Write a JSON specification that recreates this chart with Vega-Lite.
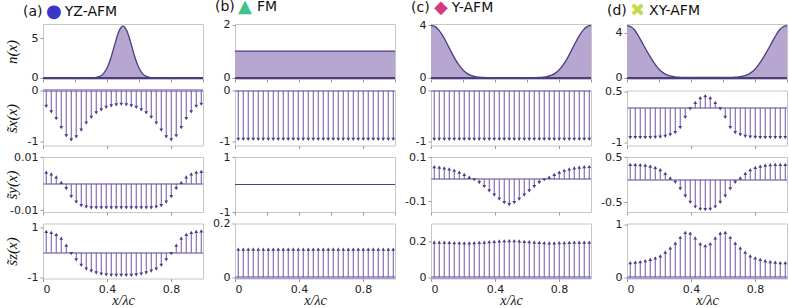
{
  "$schema": "https://vega.github.io/schema/vega-lite/v6.json",
  "background": "white",
  "padding": {"left": 3, "top": -3, "right": 0, "bottom": 0},
  "config": {
    "view": {"stroke": "#c6c6c6", "strokeWidth": 1},
    "axis": {"domain": false, "grid": false, "tickSize": 3, "tickColor": "#9a9a9a", "labelFont": "DejaVu Sans", "labelFontSize": 11, "labelColor": "#222222", "labelPadding": 2, "titleFont": "Liberation Serif", "titleFontStyle": "italic", "titleFontWeight": "normal", "titleFontSize": 15, "titleColor": "#111111", "labelExpr": "replace(format(datum.value, '~g'), '\u2212', '-')"},
    "axisY": {"titleX": -32, "titleY": 27.5, "titleAngle": -90, "titleBaseline": "middle", "titleAlign": "center"},
    "axisX": {"titlePadding": -1, "titleFontSize": 14},
    "title": {"anchor": "start", "frame": "group", "font": "DejaVu Sans", "fontSize": 14, "fontWeight": "normal", "color": "#111111", "dx": -20, "offset": 0.5, "subtitleFont": "DejaVu Sans", "subtitleFontSize": 18, "subtitlePadding": -16}
  },
  "datasets": {
    "sites": [
      {"x": 0.0203, "a_sx": -0.31, "a_sy": 0.0044, "a_sz": 0.85, "b_sx": -0.96, "b_sy": 0, "b_sz": 0.105, "c_sx": -0.96, "c_sy": 0.057, "c_sz": 0.197, "d_sx": -0.87, "d_sy": 0.34, "d_sz": 0.28},
      {"x": 0.0516, "a_sx": -0.42, "a_sy": 0.0037, "a_sz": 0.81, "b_sx": -0.96, "b_sy": 0, "b_sz": 0.105, "c_sx": -0.96, "c_sy": 0.055, "c_sz": 0.197, "d_sx": -0.87, "d_sy": 0.34, "d_sz": 0.29},
      {"x": 0.0828, "a_sx": -0.55, "a_sy": 0.0026, "a_sz": 0.73, "b_sx": -0.96, "b_sy": 0, "b_sz": 0.105, "c_sx": -0.96, "c_sy": 0.052, "c_sz": 0.196, "d_sx": -0.87, "d_sy": 0.33, "d_sz": 0.30},
      {"x": 0.1141, "a_sx": -0.73, "a_sy": 0.0005, "a_sz": 0.58, "b_sx": -0.96, "b_sy": 0, "b_sz": 0.105, "c_sx": -0.96, "c_sy": 0.047, "c_sz": 0.195, "d_sx": -0.87, "d_sy": 0.32, "d_sz": 0.32},
      {"x": 0.1453, "a_sx": -0.89, "a_sy": -0.0019, "a_sz": 0.30, "b_sx": -0.96, "b_sy": 0, "b_sz": 0.105, "c_sx": -0.96, "c_sy": 0.041, "c_sz": 0.194, "d_sx": -0.87, "d_sy": 0.30, "d_sz": 0.34},
      {"x": 0.1766, "a_sx": -0.97, "a_sy": -0.0049, "a_sz": -0.03, "b_sx": -0.96, "b_sy": 0, "b_sz": 0.105, "c_sx": -0.96, "c_sy": 0.033, "c_sz": 0.193, "d_sx": -0.86, "d_sy": 0.27, "d_sz": 0.37},
      {"x": 0.2078, "a_sx": -0.91, "a_sy": -0.0070, "a_sz": -0.28, "b_sx": -0.96, "b_sy": 0, "b_sz": 0.105, "c_sx": -0.96, "c_sy": 0.022, "c_sz": 0.192, "d_sx": -0.85, "d_sy": 0.22, "d_sz": 0.41},
      {"x": 0.2391, "a_sx": -0.78, "a_sy": -0.0083, "a_sz": -0.50, "b_sx": -0.96, "b_sy": 0, "b_sz": 0.105, "c_sx": -0.96, "c_sy": 0.010, "c_sz": 0.192, "d_sx": -0.83, "d_sy": 0.14, "d_sz": 0.48},
      {"x": 0.2703, "a_sx": -0.64, "a_sy": -0.0089, "a_sz": -0.65, "b_sx": -0.96, "b_sy": 0, "b_sz": 0.105, "c_sx": -0.96, "c_sy": -0.002, "c_sz": 0.193, "d_sx": -0.79, "d_sy": 0.04, "d_sz": 0.56},
      {"x": 0.3016, "a_sx": -0.53, "a_sy": -0.0091, "a_sz": -0.73, "b_sx": -0.96, "b_sy": 0, "b_sz": 0.105, "c_sx": -0.96, "c_sy": -0.015, "c_sz": 0.195, "d_sx": -0.72, "d_sy": -0.06, "d_sz": 0.65},
      {"x": 0.3328, "a_sx": -0.44, "a_sy": -0.0091, "a_sz": -0.80, "b_sx": -0.96, "b_sy": 0, "b_sz": 0.105, "c_sx": -0.96, "c_sy": -0.033, "c_sz": 0.197, "d_sx": -0.57, "d_sy": -0.20, "d_sz": 0.76},
      {"x": 0.3641, "a_sx": -0.38, "a_sy": -0.0091, "a_sz": -0.85, "b_sx": -0.96, "b_sy": 0, "b_sz": 0.105, "c_sx": -0.96, "c_sy": -0.052, "c_sz": 0.199, "d_sx": -0.27, "d_sy": -0.36, "d_sz": 0.85},
      {"x": 0.3953, "a_sx": -0.33, "a_sy": -0.0091, "a_sz": -0.88, "b_sx": -0.96, "b_sy": 0, "b_sz": 0.105, "c_sx": -0.96, "c_sy": -0.072, "c_sz": 0.201, "d_sx": -0.02, "d_sy": -0.50, "d_sz": 0.84},
      {"x": 0.4266, "a_sx": -0.30, "a_sy": -0.0091, "a_sz": -0.90, "b_sx": -0.96, "b_sy": 0, "b_sz": 0.105, "c_sx": -0.96, "c_sy": -0.090, "c_sz": 0.203, "d_sx": 0.17, "d_sy": -0.60, "d_sz": 0.75},
      {"x": 0.4578, "a_sx": -0.28, "a_sy": -0.0091, "a_sz": -0.90, "b_sx": -0.96, "b_sy": 0, "b_sz": 0.105, "c_sx": -0.96, "c_sy": -0.106, "c_sz": 0.204, "d_sx": 0.31, "d_sy": -0.65, "d_sz": 0.64},
      {"x": 0.4891, "a_sx": -0.27, "a_sy": -0.0091, "a_sz": -0.90, "b_sx": -0.96, "b_sy": 0, "b_sz": 0.105, "c_sx": -0.96, "c_sy": -0.115, "c_sz": 0.205, "d_sx": 0.37, "d_sy": -0.66, "d_sz": 0.60},
      {"x": 0.5203, "a_sx": -0.28, "a_sy": -0.0091, "a_sz": -0.90, "b_sx": -0.96, "b_sy": 0, "b_sz": 0.105, "c_sx": -0.96, "c_sy": -0.106, "c_sz": 0.204, "d_sx": 0.31, "d_sy": -0.65, "d_sz": 0.64},
      {"x": 0.5516, "a_sx": -0.30, "a_sy": -0.0091, "a_sz": -0.90, "b_sx": -0.96, "b_sy": 0, "b_sz": 0.105, "c_sx": -0.96, "c_sy": -0.090, "c_sz": 0.203, "d_sx": 0.17, "d_sy": -0.60, "d_sz": 0.75},
      {"x": 0.5828, "a_sx": -0.33, "a_sy": -0.0091, "a_sz": -0.88, "b_sx": -0.96, "b_sy": 0, "b_sz": 0.105, "c_sx": -0.96, "c_sy": -0.072, "c_sz": 0.201, "d_sx": -0.02, "d_sy": -0.50, "d_sz": 0.84},
      {"x": 0.6141, "a_sx": -0.38, "a_sy": -0.0091, "a_sz": -0.85, "b_sx": -0.96, "b_sy": 0, "b_sz": 0.105, "c_sx": -0.96, "c_sy": -0.052, "c_sz": 0.199, "d_sx": -0.27, "d_sy": -0.36, "d_sz": 0.85},
      {"x": 0.6453, "a_sx": -0.44, "a_sy": -0.0091, "a_sz": -0.80, "b_sx": -0.96, "b_sy": 0, "b_sz": 0.105, "c_sx": -0.96, "c_sy": -0.033, "c_sz": 0.197, "d_sx": -0.57, "d_sy": -0.20, "d_sz": 0.76},
      {"x": 0.6766, "a_sx": -0.53, "a_sy": -0.0091, "a_sz": -0.73, "b_sx": -0.96, "b_sy": 0, "b_sz": 0.105, "c_sx": -0.96, "c_sy": -0.015, "c_sz": 0.195, "d_sx": -0.72, "d_sy": -0.06, "d_sz": 0.65},
      {"x": 0.7078, "a_sx": -0.64, "a_sy": -0.0089, "a_sz": -0.65, "b_sx": -0.96, "b_sy": 0, "b_sz": 0.105, "c_sx": -0.96, "c_sy": -0.002, "c_sz": 0.193, "d_sx": -0.79, "d_sy": 0.04, "d_sz": 0.56},
      {"x": 0.7391, "a_sx": -0.78, "a_sy": -0.0083, "a_sz": -0.50, "b_sx": -0.96, "b_sy": 0, "b_sz": 0.105, "c_sx": -0.96, "c_sy": 0.010, "c_sz": 0.192, "d_sx": -0.83, "d_sy": 0.14, "d_sz": 0.48},
      {"x": 0.7703, "a_sx": -0.91, "a_sy": -0.0070, "a_sz": -0.28, "b_sx": -0.96, "b_sy": 0, "b_sz": 0.105, "c_sx": -0.96, "c_sy": 0.022, "c_sz": 0.192, "d_sx": -0.85, "d_sy": 0.22, "d_sz": 0.41},
      {"x": 0.8016, "a_sx": -0.97, "a_sy": -0.0049, "a_sz": -0.03, "b_sx": -0.96, "b_sy": 0, "b_sz": 0.105, "c_sx": -0.96, "c_sy": 0.033, "c_sz": 0.193, "d_sx": -0.86, "d_sy": 0.27, "d_sz": 0.37},
      {"x": 0.8328, "a_sx": -0.89, "a_sy": -0.0019, "a_sz": 0.30, "b_sx": -0.96, "b_sy": 0, "b_sz": 0.105, "c_sx": -0.96, "c_sy": 0.041, "c_sz": 0.194, "d_sx": -0.87, "d_sy": 0.30, "d_sz": 0.34},
      {"x": 0.8641, "a_sx": -0.73, "a_sy": 0.0005, "a_sz": 0.58, "b_sx": -0.96, "b_sy": 0, "b_sz": 0.105, "c_sx": -0.96, "c_sy": 0.047, "c_sz": 0.195, "d_sx": -0.87, "d_sy": 0.32, "d_sz": 0.32},
      {"x": 0.8953, "a_sx": -0.55, "a_sy": 0.0026, "a_sz": 0.73, "b_sx": -0.96, "b_sy": 0, "b_sz": 0.105, "c_sx": -0.96, "c_sy": 0.052, "c_sz": 0.196, "d_sx": -0.87, "d_sy": 0.33, "d_sz": 0.30},
      {"x": 0.9266, "a_sx": -0.42, "a_sy": 0.0037, "a_sz": 0.81, "b_sx": -0.96, "b_sy": 0, "b_sz": 0.105, "c_sx": -0.96, "c_sy": 0.055, "c_sz": 0.197, "d_sx": -0.87, "d_sy": 0.34, "d_sz": 0.29},
      {"x": 0.9578, "a_sx": -0.31, "a_sy": 0.0044, "a_sz": 0.85, "b_sx": -0.96, "b_sy": 0, "b_sz": 0.105, "c_sx": -0.96, "c_sy": 0.057, "c_sz": 0.197, "d_sx": -0.87, "d_sy": 0.34, "d_sz": 0.28},
      {"x": 0.9891, "a_sx": -0.27, "a_sy": 0.0047, "a_sz": 0.87, "b_sx": -0.96, "b_sy": 0, "b_sz": 0.105, "c_sx": -0.96, "c_sy": 0.058, "c_sz": 0.197, "d_sx": -0.87, "d_sy": 0.34, "d_sz": 0.28}
    ],
    "dens": [
      {"x": 0, "a": 0, "b": 1, "c": 4.0, "d": 4.66},
      {"x": 0.025, "a": 0, "b": 1, "c": 3.9, "d": 4.55},
      {"x": 0.05, "a": 0, "b": 1, "c": 3.62, "d": 4.22},
      {"x": 0.075, "a": 0, "b": 1, "c": 3.18, "d": 3.65},
      {"x": 0.1, "a": 0, "b": 1, "c": 2.62, "d": 3.0},
      {"x": 0.125, "a": 0, "b": 1, "c": 2.02, "d": 2.35},
      {"x": 0.15, "a": 0, "b": 1, "c": 1.45, "d": 1.75},
      {"x": 0.175, "a": 0, "b": 1, "c": 0.97, "d": 1.2},
      {"x": 0.2, "a": 0, "b": 1, "c": 0.6, "d": 0.75},
      {"x": 0.225, "a": 0, "b": 1, "c": 0.35, "d": 0.45},
      {"x": 0.25, "a": 0, "b": 1, "c": 0.19, "d": 0.25},
      {"x": 0.275, "a": 0, "b": 1, "c": 0.1, "d": 0.13},
      {"x": 0.3, "a": 0.01, "b": 1, "c": 0.06, "d": 0.07},
      {"x": 0.325, "a": 0.04, "b": 1, "c": 0.04, "d": 0.04},
      {"x": 0.35, "a": 0.16, "b": 1, "c": 0.03, "d": 0.03},
      {"x": 0.375, "a": 0.49, "b": 1, "c": 0.03, "d": 0.02},
      {"x": 0.4, "a": 1.25, "b": 1, "c": 0.03, "d": 0.02},
      {"x": 0.425, "a": 2.58, "b": 1, "c": 0.03, "d": 0.02},
      {"x": 0.45, "a": 4.33, "b": 1, "c": 0.03, "d": 0.02},
      {"x": 0.475, "a": 5.9, "b": 1, "c": 0.03, "d": 0.02},
      {"x": 0.5, "a": 6.54, "b": 1, "c": 0.03, "d": 0.02},
      {"x": 0.525, "a": 5.9, "b": 1, "c": 0.03, "d": 0.02},
      {"x": 0.55, "a": 4.33, "b": 1, "c": 0.03, "d": 0.02},
      {"x": 0.575, "a": 2.58, "b": 1, "c": 0.03, "d": 0.02},
      {"x": 0.6, "a": 1.25, "b": 1, "c": 0.03, "d": 0.02},
      {"x": 0.625, "a": 0.49, "b": 1, "c": 0.03, "d": 0.02},
      {"x": 0.65, "a": 0.16, "b": 1, "c": 0.03, "d": 0.03},
      {"x": 0.675, "a": 0.04, "b": 1, "c": 0.04, "d": 0.04},
      {"x": 0.7, "a": 0.01, "b": 1, "c": 0.06, "d": 0.07},
      {"x": 0.725, "a": 0, "b": 1, "c": 0.1, "d": 0.13},
      {"x": 0.75, "a": 0, "b": 1, "c": 0.19, "d": 0.25},
      {"x": 0.775, "a": 0, "b": 1, "c": 0.35, "d": 0.45},
      {"x": 0.8, "a": 0, "b": 1, "c": 0.6, "d": 0.75},
      {"x": 0.825, "a": 0, "b": 1, "c": 0.97, "d": 1.2},
      {"x": 0.85, "a": 0, "b": 1, "c": 1.45, "d": 1.75},
      {"x": 0.875, "a": 0, "b": 1, "c": 2.02, "d": 2.35},
      {"x": 0.9, "a": 0, "b": 1, "c": 2.62, "d": 3.0},
      {"x": 0.925, "a": 0, "b": 1, "c": 3.18, "d": 3.65},
      {"x": 0.95, "a": 0, "b": 1, "c": 3.62, "d": 4.22},
      {"x": 0.975, "a": 0, "b": 1, "c": 3.9, "d": 4.55},
      {"x": 1, "a": 0, "b": 1, "c": 4.0, "d": 4.66}
    ]
  },
  "spacing": 5,
  "hconcat": [
    {"spacing": 11.5, "bounds": "flush", "vconcat": [
      {"width": 160, "height": 55, "data": {"name": "dens"},
       "title": {"text": "(a)\u00a0\u00a0\u00a0\u00a0\u00a0YZ-AFM", "subtitle": "\u200b\u00a0\u00a0\u00a0\u00a0\u25cf", "subtitleColor": "#3b35c9"},
       "layer": [
        {"mark": {"type": "area", "color": "#b7a7d0", "opacity": 1, "interpolate": "monotone", "line": {"color": "#4d3d83", "strokeWidth": 1.3}},
         "encoding": {"x": {"field": "x", "type": "quantitative", "scale": {"domain": [0, 1], "nice": false}, "axis": {"values": [0, 0.2, 0.4, 0.6, 0.8, 1], "labels": false, "title": null}},
                      "y": {"field": "a", "type": "quantitative", "scale": {"domain": [-0.13, 6.8], "nice": false, "zero": false}, "axis": {"values": [0, 5], "title": "n(x)"}}}},
        {"mark": {"type": "rule", "color": "#4d3d83", "strokeWidth": 1.3}, "encoding": {"y": {"datum": 0, "type": "quantitative"}}}
       ]},
      {"width": 160, "height": 55, "data": {"name": "sites"},
       "layer": [
        {"mark": {"type": "rule", "color": "#ab9dca", "strokeWidth": 1.5}, "encoding": {"y": {"datum": 0, "type": "quantitative", "scale": {"domain": [-1.08, 0], "nice": false, "zero": false}, "axis": {"values": [0, -1], "title": "s\u0303x(x)"}}}},
        {"mark": {"type": "rule", "color": "#6e56a8", "strokeWidth": 1}, "encoding": {"x": {"field": "x", "type": "quantitative", "scale": {"domain": [0, 1], "nice": false}, "axis": {"values": [0, 0.2, 0.4, 0.6, 0.8, 1], "labels": false, "title": null}}, "y": {"field": "a_sx", "type": "quantitative"}, "y2": {"datum": 0}}},
        {"mark": {"type": "point", "filled": true, "size": 14, "color": "#4d3d83", "opacity": 1}, "encoding": {"x": {"field": "x", "type": "quantitative"}, "y": {"field": "a_sx", "type": "quantitative"}, "shape": {"condition": {"test": "datum.a_sx < 0", "value": "triangle-down"}, "value": "triangle-up"}}}
       ]},
      {"width": 160, "height": 55, "data": {"name": "sites"},
       "layer": [
        {"mark": {"type": "rule", "color": "#ab9dca", "strokeWidth": 1.5}, "encoding": {"y": {"datum": 0, "type": "quantitative", "scale": {"domain": [-0.0107, 0.0101], "nice": false, "zero": false}, "axis": {"values": [0.01, 0, -0.01], "title": "s\u0303y(x)"}}}},
        {"mark": {"type": "rule", "color": "#6e56a8", "strokeWidth": 1}, "encoding": {"x": {"field": "x", "type": "quantitative", "scale": {"domain": [0, 1], "nice": false}, "axis": {"values": [0, 0.2, 0.4, 0.6, 0.8, 1], "labels": false, "title": null}}, "y": {"field": "a_sy", "type": "quantitative"}, "y2": {"datum": 0}}},
        {"mark": {"type": "point", "filled": true, "size": 14, "color": "#4d3d83", "opacity": 1}, "encoding": {"x": {"field": "x", "type": "quantitative"}, "y": {"field": "a_sy", "type": "quantitative"}, "shape": {"condition": {"test": "datum.a_sy < 0", "value": "triangle-down"}, "value": "triangle-up"}}}
       ]},
      {"width": 160, "height": 55, "data": {"name": "sites"},
       "layer": [
        {"mark": {"type": "rule", "color": "#ab9dca", "strokeWidth": 1.5}, "encoding": {"y": {"datum": 0, "type": "quantitative", "scale": {"domain": [-1.02, 1.16], "nice": false, "zero": false}, "axis": {"values": [1, 0, -1], "title": "s\u0303z(x)"}}}},
        {"mark": {"type": "rule", "color": "#6e56a8", "strokeWidth": 1}, "encoding": {"x": {"field": "x", "type": "quantitative", "scale": {"domain": [0, 1], "nice": false}, "axis": {"values": [0, 0.2, 0.4, 0.6, 0.8, 1], "title": "x/\u03bbc"}}, "y": {"field": "a_sz", "type": "quantitative"}, "y2": {"datum": 0}}},
        {"mark": {"type": "point", "filled": true, "size": 14, "color": "#4d3d83", "opacity": 1}, "encoding": {"x": {"field": "x", "type": "quantitative"}, "y": {"field": "a_sz", "type": "quantitative"}, "shape": {"condition": {"test": "datum.a_sz < 0", "value": "triangle-down"}, "value": "triangle-up"}}}
       ]}
    ]},
    {"spacing": 11.5, "bounds": "flush", "vconcat": [
      {"width": 160, "height": 55, "data": {"name": "dens"},
       "title": {"text": "(b)\u00a0\u00a0\u00a0\u00a0\u00a0FM", "subtitle": "\u200b\u00a0\u00a0\u00a0\u00a0\u25b2", "subtitleColor": "#3cc48a"},
       "layer": [
        {"mark": {"type": "area", "color": "#b7a7d0", "opacity": 1, "interpolate": "monotone", "line": {"color": "#4d3d83", "strokeWidth": 1.3}},
         "encoding": {"x": {"field": "x", "type": "quantitative", "scale": {"domain": [0, 1], "nice": false}, "axis": {"values": [0, 0.2, 0.4, 0.6, 0.8, 1], "labels": false, "title": null}},
                      "y": {"field": "b", "type": "quantitative", "scale": {"domain": [-0.05, 2.02], "nice": false, "zero": false}, "axis": {"values": [0, 1, 2], "title": null}}}},
        {"mark": {"type": "rule", "color": "#4d3d83", "strokeWidth": 1.3}, "encoding": {"y": {"datum": 0, "type": "quantitative"}}}
       ]},
      {"width": 160, "height": 55, "data": {"name": "sites"},
       "layer": [
        {"mark": {"type": "rule", "color": "#ab9dca", "strokeWidth": 1.5}, "encoding": {"y": {"datum": 0, "type": "quantitative", "scale": {"domain": [-1.08, 0.005], "nice": false, "zero": false}, "axis": {"values": [0, -0.5, -1], "title": null}}}},
        {"mark": {"type": "rule", "color": "#6e56a8", "strokeWidth": 1}, "encoding": {"x": {"field": "x", "type": "quantitative", "scale": {"domain": [0, 1], "nice": false}, "axis": {"values": [0, 0.2, 0.4, 0.6, 0.8, 1], "labels": false, "title": null}}, "y": {"field": "b_sx", "type": "quantitative"}, "y2": {"datum": 0}}},
        {"mark": {"type": "point", "filled": true, "size": 14, "color": "#4d3d83", "opacity": 1}, "encoding": {"x": {"field": "x", "type": "quantitative"}, "y": {"field": "b_sx", "type": "quantitative"}, "shape": {"condition": {"test": "datum.b_sx < 0", "value": "triangle-down"}, "value": "triangle-up"}}}
       ]},
      {"width": 160, "height": 55, "data": {"name": "sites"},
       "layer": [
        {"mark": {"type": "rule", "color": "#4d3d83", "strokeWidth": 1}, "encoding": {"y": {"datum": 0, "type": "quantitative", "scale": {"domain": [-1, 1], "nice": false, "zero": false}, "axis": {"values": [1, 0, -1], "title": null}}}},
        {"mark": {"type": "rule", "color": "#6e56a8", "strokeWidth": 1}, "encoding": {"x": {"field": "x", "type": "quantitative", "scale": {"domain": [0, 1], "nice": false}, "axis": {"values": [0, 0.2, 0.4, 0.6, 0.8, 1], "labels": false, "title": null}}, "y": {"field": "b_sy", "type": "quantitative"}, "y2": {"datum": 0}}}
       ]},
      {"width": 160, "height": 55, "data": {"name": "sites"},
       "layer": [
        {"mark": {"type": "rule", "color": "#ab9dca", "strokeWidth": 1.5}, "encoding": {"y": {"datum": 0, "type": "quantitative", "scale": {"domain": [-0.004, 0.2], "nice": false, "zero": false}, "axis": {"values": [0, 0.1, 0.2], "title": null}}}},
        {"mark": {"type": "rule", "color": "#6e56a8", "strokeWidth": 1}, "encoding": {"x": {"field": "x", "type": "quantitative", "scale": {"domain": [0, 1], "nice": false}, "axis": {"values": [0, 0.2, 0.4, 0.6, 0.8, 1], "title": "x/\u03bbc"}}, "y": {"field": "b_sz", "type": "quantitative"}, "y2": {"datum": 0}}},
        {"mark": {"type": "point", "filled": true, "size": 14, "color": "#4d3d83", "opacity": 1}, "encoding": {"x": {"field": "x", "type": "quantitative"}, "y": {"field": "b_sz", "type": "quantitative"}, "shape": {"condition": {"test": "datum.b_sz < 0", "value": "triangle-down"}, "value": "triangle-up"}}}
       ]}
    ]},
    {"spacing": 11.5, "bounds": "flush", "vconcat": [
      {"width": 160, "height": 55, "data": {"name": "dens"},
       "title": {"text": "(c)\u00a0\u00a0\u00a0\u00a0\u00a0Y-AFM", "subtitle": "\u200b\u00a0\u00a0\u00a0\u00a0\u25c6", "subtitleColor": "#d63a7e"},
       "layer": [
        {"mark": {"type": "area", "color": "#b7a7d0", "opacity": 1, "interpolate": "monotone", "line": {"color": "#4d3d83", "strokeWidth": 1.3}},
         "encoding": {"x": {"field": "x", "type": "quantitative", "scale": {"domain": [0, 1], "nice": false}, "axis": {"values": [0, 0.2, 0.4, 0.6, 0.8, 1], "labels": false, "title": null}},
                      "y": {"field": "c", "type": "quantitative", "scale": {"domain": [-0.08, 4.1], "nice": false, "zero": false}, "axis": {"values": [0, 4], "title": null}}}},
        {"mark": {"type": "rule", "color": "#4d3d83", "strokeWidth": 1.3}, "encoding": {"y": {"datum": 0, "type": "quantitative"}}}
       ]},
      {"width": 160, "height": 55, "data": {"name": "sites"},
       "layer": [
        {"mark": {"type": "rule", "color": "#ab9dca", "strokeWidth": 1.5}, "encoding": {"y": {"datum": 0, "type": "quantitative", "scale": {"domain": [-1.08, 0.005], "nice": false, "zero": false}, "axis": {"values": [0, -0.5, -1], "title": null}}}},
        {"mark": {"type": "rule", "color": "#6e56a8", "strokeWidth": 1}, "encoding": {"x": {"field": "x", "type": "quantitative", "scale": {"domain": [0, 1], "nice": false}, "axis": {"values": [0, 0.2, 0.4, 0.6, 0.8, 1], "labels": false, "title": null}}, "y": {"field": "c_sx", "type": "quantitative"}, "y2": {"datum": 0}}},
        {"mark": {"type": "point", "filled": true, "size": 14, "color": "#4d3d83", "opacity": 1}, "encoding": {"x": {"field": "x", "type": "quantitative"}, "y": {"field": "c_sx", "type": "quantitative"}, "shape": {"condition": {"test": "datum.c_sx < 0", "value": "triangle-down"}, "value": "triangle-up"}}}
       ]},
      {"width": 160, "height": 55, "data": {"name": "sites"},
       "layer": [
        {"mark": {"type": "rule", "color": "#ab9dca", "strokeWidth": 1.5}, "encoding": {"y": {"datum": 0, "type": "quantitative", "scale": {"domain": [-0.148, 0.101], "nice": false, "zero": false}, "axis": {"values": [0.1, 0, -0.1], "title": null}}}},
        {"mark": {"type": "rule", "color": "#6e56a8", "strokeWidth": 1}, "encoding": {"x": {"field": "x", "type": "quantitative", "scale": {"domain": [0, 1], "nice": false}, "axis": {"values": [0, 0.2, 0.4, 0.6, 0.8, 1], "labels": false, "title": null}}, "y": {"field": "c_sy", "type": "quantitative"}, "y2": {"datum": 0}}},
        {"mark": {"type": "point", "filled": true, "size": 14, "color": "#4d3d83", "opacity": 1}, "encoding": {"x": {"field": "x", "type": "quantitative"}, "y": {"field": "c_sy", "type": "quantitative"}, "shape": {"condition": {"test": "datum.c_sy < 0", "value": "triangle-down"}, "value": "triangle-up"}}}
       ]},
      {"width": 160, "height": 55, "data": {"name": "sites"},
       "layer": [
        {"mark": {"type": "rule", "color": "#ab9dca", "strokeWidth": 1.5}, "encoding": {"y": {"datum": 0, "type": "quantitative", "scale": {"domain": [-0.006, 0.3], "nice": false, "zero": false}, "axis": {"values": [0, 0.2], "title": null}}}},
        {"mark": {"type": "rule", "color": "#6e56a8", "strokeWidth": 1}, "encoding": {"x": {"field": "x", "type": "quantitative", "scale": {"domain": [0, 1], "nice": false}, "axis": {"values": [0, 0.2, 0.4, 0.6, 0.8, 1], "title": "x/\u03bbc"}}, "y": {"field": "c_sz", "type": "quantitative"}, "y2": {"datum": 0}}},
        {"mark": {"type": "point", "filled": true, "size": 14, "color": "#4d3d83", "opacity": 1}, "encoding": {"x": {"field": "x", "type": "quantitative"}, "y": {"field": "c_sz", "type": "quantitative"}, "shape": {"condition": {"test": "datum.c_sz < 0", "value": "triangle-down"}, "value": "triangle-up"}}}
       ]}
    ]},
    {"spacing": 11.5, "bounds": "flush", "vconcat": [
      {"width": 160, "height": 55, "data": {"name": "dens"},
       "title": {"text": "(d)\u00a0\u00a0\u00a0\u00a0\u00a0XY-AFM", "subtitle": "\u200b\u00a0\u00a0\u00a0\u00a0\u2716\ufe0e", "subtitleColor": "#c3d94e"},
       "layer": [
        {"mark": {"type": "area", "color": "#b7a7d0", "opacity": 1, "interpolate": "monotone", "line": {"color": "#4d3d83", "strokeWidth": 1.3}},
         "encoding": {"x": {"field": "x", "type": "quantitative", "scale": {"domain": [0, 1], "nice": false}, "axis": {"values": [0, 0.2, 0.4, 0.6, 0.8, 1], "labels": false, "title": null}},
                      "y": {"field": "d", "type": "quantitative", "scale": {"domain": [-0.12, 4.8], "nice": false, "zero": false}, "axis": {"values": [0, 4], "title": null}}}},
        {"mark": {"type": "rule", "color": "#4d3d83", "strokeWidth": 1.3}, "encoding": {"y": {"datum": 0, "type": "quantitative"}}}
       ]},
      {"width": 160, "height": 55, "data": {"name": "sites"},
       "layer": [
        {"mark": {"type": "rule", "color": "#ab9dca", "strokeWidth": 1.5}, "encoding": {"y": {"datum": 0, "type": "quantitative", "scale": {"domain": [-1.1, 0.52], "nice": false, "zero": false}, "axis": {"values": [0.5, 0, -1], "title": null}}}},
        {"mark": {"type": "rule", "color": "#6e56a8", "strokeWidth": 1}, "encoding": {"x": {"field": "x", "type": "quantitative", "scale": {"domain": [0, 1], "nice": false}, "axis": {"values": [0, 0.2, 0.4, 0.6, 0.8, 1], "labels": false, "title": null}}, "y": {"field": "d_sx", "type": "quantitative"}, "y2": {"datum": 0}}},
        {"mark": {"type": "point", "filled": true, "size": 14, "color": "#4d3d83", "opacity": 1}, "encoding": {"x": {"field": "x", "type": "quantitative"}, "y": {"field": "d_sx", "type": "quantitative"}, "shape": {"condition": {"test": "datum.d_sx < 0", "value": "triangle-down"}, "value": "triangle-up"}}}
       ]},
      {"width": 160, "height": 55, "data": {"name": "sites"},
       "layer": [
        {"mark": {"type": "rule", "color": "#ab9dca", "strokeWidth": 1.5}, "encoding": {"y": {"datum": 0, "type": "quantitative", "scale": {"domain": [-0.71, 0.5], "nice": false, "zero": false}, "axis": {"values": [0.5, 0, -0.5], "title": null}}}},
        {"mark": {"type": "rule", "color": "#6e56a8", "strokeWidth": 1}, "encoding": {"x": {"field": "x", "type": "quantitative", "scale": {"domain": [0, 1], "nice": false}, "axis": {"values": [0, 0.2, 0.4, 0.6, 0.8, 1], "labels": false, "title": null}}, "y": {"field": "d_sy", "type": "quantitative"}, "y2": {"datum": 0}}},
        {"mark": {"type": "point", "filled": true, "size": 14, "color": "#4d3d83", "opacity": 1}, "encoding": {"x": {"field": "x", "type": "quantitative"}, "y": {"field": "d_sy", "type": "quantitative"}, "shape": {"condition": {"test": "datum.d_sy < 0", "value": "triangle-down"}, "value": "triangle-up"}}}
       ]},
      {"width": 160, "height": 55, "data": {"name": "sites"},
       "layer": [
        {"mark": {"type": "rule", "color": "#ab9dca", "strokeWidth": 1.5}, "encoding": {"y": {"datum": 0, "type": "quantitative", "scale": {"domain": [-0.02, 1.02], "nice": false, "zero": false}, "axis": {"values": [0, 0.5, 1], "title": null}}}},
        {"mark": {"type": "rule", "color": "#6e56a8", "strokeWidth": 1}, "encoding": {"x": {"field": "x", "type": "quantitative", "scale": {"domain": [0, 1], "nice": false}, "axis": {"values": [0, 0.2, 0.4, 0.6, 0.8, 1], "title": "x/\u03bbc"}}, "y": {"field": "d_sz", "type": "quantitative"}, "y2": {"datum": 0}}},
        {"mark": {"type": "point", "filled": true, "size": 14, "color": "#4d3d83", "opacity": 1}, "encoding": {"x": {"field": "x", "type": "quantitative"}, "y": {"field": "d_sz", "type": "quantitative"}, "shape": {"condition": {"test": "datum.d_sz < 0", "value": "triangle-down"}, "value": "triangle-up"}}}
       ]}
    ]}
  ]
}
